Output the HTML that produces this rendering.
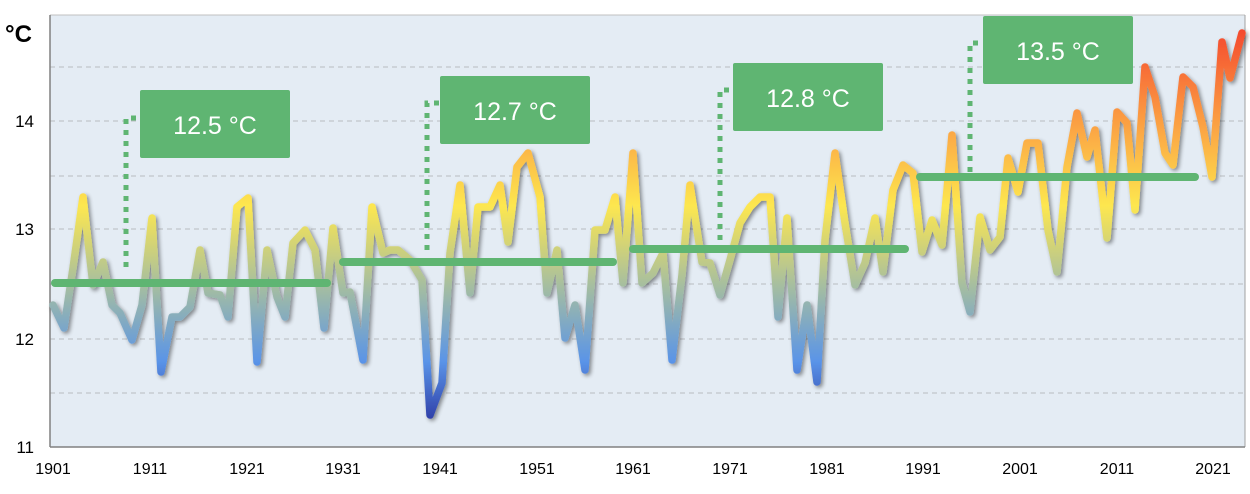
<!DOCTYPE html>
<html><head><meta charset="utf-8"><style>
body{margin:0;background:#fff;width:1250px;height:489px;overflow:hidden;font-family:"Liberation Sans",sans-serif}
</style></head><body>
<svg width="1250" height="489" xmlns="http://www.w3.org/2000/svg">
<defs>
<linearGradient id="g" gradientUnits="userSpaceOnUse" x1="0" y1="30" x2="0" y2="420">
<stop offset="0" stop-color="#f44a2e"/>
<stop offset="0.22" stop-color="#fb9a42"/>
<stop offset="0.45" stop-color="#fde74f"/>
<stop offset="0.65" stop-color="#a8bf9e"/>
<stop offset="0.85" stop-color="#5a94e8"/>
<stop offset="1" stop-color="#2f3fa8"/>
</linearGradient>
<filter id="sh" x="-5%" y="-10%" width="110%" height="120%"><feGaussianBlur in="SourceAlpha" stdDeviation="2"/><feOffset dx="2" dy="2"/><feComponentTransfer><feFuncA type="linear" slope="0.45"/></feComponentTransfer><feMerge><feMergeNode/><feMergeNode in="SourceGraphic"/></feMerge></filter>
</defs>
<rect x="50" y="15" width="1195" height="432" fill="#e4ecf4"/>
<g stroke="#b8bcc0" stroke-width="1" stroke-dasharray="5,4">
<line x1="50" x2="1245" y1="67" y2="67"/><line x1="50" x2="1245" y1="121" y2="121"/>
<line x1="50" x2="1245" y1="176" y2="176"/><line x1="50" x2="1245" y1="229" y2="229"/>
<line x1="50" x2="1245" y1="284" y2="284"/><line x1="50" x2="1245" y1="339" y2="339"/>
<line x1="50" x2="1245" y1="393" y2="393"/>
</g>
<line x1="50" y1="15" x2="1245" y2="15" stroke="#c0c0c0"/>
<line x1="1245" y1="15" x2="1245" y2="447" stroke="#a0a0a0"/>
<line x1="50" y1="15" x2="50" y2="447" stroke="#808080" stroke-width="1.5"/>
<line x1="50" y1="447" x2="1245" y2="447" stroke="#808080" stroke-width="1.5"/>
<g font-size="17" fill="#000">
<text x="34" y="127" text-anchor="end">14</text><text x="34" y="235" text-anchor="end">13</text>
<text x="34" y="345" text-anchor="end">12</text><text x="34" y="453" text-anchor="end">11</text>
</g>
<text x="5" y="42" font-size="24" font-weight="bold">°C</text>
<g font-size="16" text-anchor="middle">
<text x="53" y="474">1901</text><text x="150" y="474">1911</text><text x="247" y="474">1921</text>
<text x="343" y="474">1931</text><text x="440" y="474">1941</text><text x="537" y="474">1951</text>
<text x="633" y="474">1961</text><text x="730" y="474">1971</text><text x="827" y="474">1981</text>
<text x="923" y="474">1991</text><text x="1020" y="474">2001</text><text x="1117" y="474">2011</text>
<text x="1213" y="474">2021</text>
</g>
<polyline fill="none" stroke="url(#g)" stroke-width="7.5" stroke-linejoin="round" stroke-linecap="round" filter="url(#sh)" points="53,305 64,328 73,268 83,197 93,285 103,262 112,305 120,313 132,340 142,305 152,218 161,372 172,317 180,317 190,307 200,250 208,293 220,295 228,317 237,207 248,198 257,362 267,250 277,297 285,317 293,243 305,230 315,250 324,328 333,228 343,293 350,292 363,360 372,207 383,253 390,250 398,250 410,260 422,280 430,415 442,383 450,253 460,185 470,293 478,207 490,207 500,185 508,242 517,167 528,153 540,197 547,293 557,250 565,338 575,305 585,370 595,230 605,230 615,197 623,283 633,153 642,283 653,273 663,253 672,360 682,275 690,185 702,262 710,263 720,295 730,260 740,223 750,207 760,197 770,197 778,317 787,218 797,370 807,305 817,382 825,240 835,153 845,223 855,285 865,263 875,218 883,272 893,190 903,165 913,173 922,252 932,220 942,245 952,135 962,283 970,312 980,217 990,250 1000,237 1008,158 1018,192 1027,143 1038,143 1048,230 1057,272 1067,167 1077,113 1087,157 1095,130 1107,238 1117,112 1127,123 1135,210 1145,67 1155,97 1165,153 1173,165 1183,77 1193,87 1203,127 1212,177 1222,42 1230,78 1242,33"/>
<g stroke="#5fb572" stroke-width="8" stroke-linecap="round">
<line x1="55" y1="283" x2="327" y2="283"/><line x1="343" y1="262" x2="613" y2="262"/>
<line x1="633" y1="249" x2="905" y2="249"/><line x1="920" y1="177" x2="1195" y2="177"/>
</g>
<g stroke="#5fb572" stroke-width="5" stroke-dasharray="5,6" fill="none">
<polyline points="126,267 126,118 140,118"/><polyline points="427,250 427,103 440,103"/>
<polyline points="720,240 720,90 733,90"/><polyline points="970,172 970,43 983,43"/>
</g>
<g fill="#5fb572"><rect x="140" y="90" width="150" height="68" rx="2"/><rect x="440" y="76" width="150" height="68" rx="2"/>
<rect x="733" y="63" width="150" height="68" rx="2"/><rect x="983" y="16" width="150" height="68" rx="2"/></g>
<g fill="#fff" font-size="25" text-anchor="middle">
<text x="215" y="134">12.5 °C</text><text x="515" y="120">12.7 °C</text>
<text x="808" y="107">12.8 °C</text><text x="1058" y="60">13.5 °C</text>
</g>
</svg>
</body></html>
